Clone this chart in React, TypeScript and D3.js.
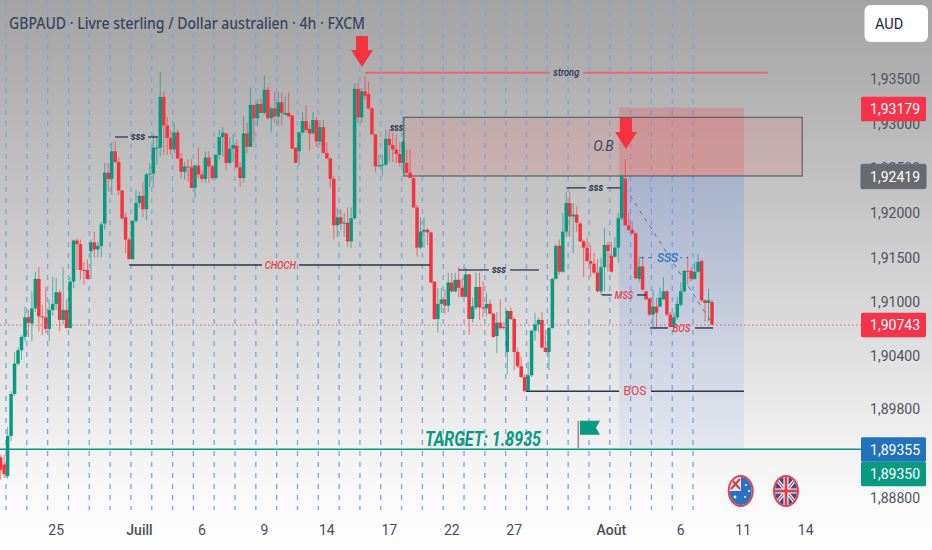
import * as d3 from "d3";

const WIDTH = 932;
const HEIGHT = 550;

// Candles in 1/10000 of a point, first entry is bar -2 (partly off the left edge).
const FIRST_BAR = -2;
const opens = [
  18926, 18918, 18905, 18950, 18997, 19031, 19046, 19061, 19083, 19076,
  19093, 19126, 19084, 19083, 19070, 19091, 19098, 19111, 19080, 19091,
  19071, 19123, 19169, 19165, 19136, 19136, 19157, 19167, 19159, 19163,
  19188, 19245, 19238, 19269, 19257, 19225, 19195, 19170, 19148, 19191,
  19211, 19219, 19204, 19243, 19244, 19272, 19273, 19330, 19298, 19284,
  19271, 19290, 19261, 19246, 19252, 19251, 19228, 19253, 19243, 19238,
  19262, 19252, 19239, 19265, 19285, 19289, 19256, 19272, 19275, 19251,
  19239, 19289, 19274, 19321, 19306, 19322, 19312, 19338, 19306, 19317,
  19308, 19324, 19310, 19312, 19309, 19273, 19269, 19290, 19303, 19294,
  19289, 19304, 19280, 19296, 19267, 19261, 19238, 19186, 19195, 19188,
  19189, 19168, 19194, 19339, 19307, 19336, 19333, 19317, 19288, 19252,
  19253, 19254, 19283, 19276, 19271, 19266, 19256, 19256, 19245, 19239,
  19206, 19161, 19179, 19181, 19178, 19123, 19081, 19098, 19103, 19096,
  19122, 19112, 19125, 19116, 19106, 19131, 19081, 19094, 19117, 19094,
  19093, 19098, 19087, 19062, 19077, 19072, 19044, 19090, 19081, 19044,
  19028, 19016, 19001, 19018, 19068, 19075, 19080, 19049, 19044, 19071,
  19126, 19163, 19134, 19179, 19211, 19196, 19198, 19188, 19168, 19161,
  19146, 19143, 19133, 19112, 19139, 19164, 19152, 19151, 19161, 19194,
  19238, 19186, 19181, 19177, 19126, 19140, 19112, 19104, 19086, 19095,
  19095, 19103, 19112, 19086, 19072, 19083, 19097, 19112, 19135, 19135,
  19126, 19134, 19146, 19102, 19099, 19100,
];
const closes = [
  18912, 18907, 18950, 18997, 19031, 19046, 19061, 19083, 19077, 19093,
  19126, 19084, 19083, 19070, 19091, 19098, 19111, 19080, 19091, 19071,
  19123, 19169, 19165, 19136, 19135, 19126, 19167, 19159, 19163, 19187,
  19245, 19238, 19269, 19257, 19225, 19194, 19170, 19148, 19191, 19211,
  19219, 19204, 19243, 19244, 19273, 19273, 19330, 19298, 19284, 19271,
  19290, 19261, 19246, 19252, 19251, 19228, 19253, 19243, 19238, 19262,
  19252, 19239, 19265, 19285, 19290, 19256, 19272, 19276, 19251, 19239,
  19289, 19274, 19321, 19306, 19322, 19312, 19338, 19306, 19317, 19308,
  19324, 19312, 19312, 19308, 19272, 19256, 19290, 19303, 19293, 19289,
  19304, 19280, 19296, 19267, 19261, 19238, 19186, 19195, 19188, 19189,
  19168, 19194, 19339, 19307, 19336, 19331, 19317, 19288, 19252, 19253,
  19254, 19283, 19276, 19271, 19266, 19256, 19280, 19245, 19239, 19206,
  19161, 19179, 19181, 19178, 19122, 19081, 19098, 19103, 19096, 19122,
  19112, 19125, 19116, 19106, 19131, 19081, 19095, 19117, 19094, 19093,
  19098, 19087, 19061, 19077, 19071, 19071, 19090, 19081, 19044, 19028,
  19016, 19000, 19018, 19068, 19075, 19080, 19049, 19044, 19071, 19126,
  19163, 19134, 19179, 19211, 19196, 19198, 19189, 19168, 19161, 19146,
  19143, 19133, 19112, 19139, 19164, 19157, 19134, 19161, 19194, 19241,
  19186, 19181, 19177, 19127, 19140, 19114, 19103, 19086, 19095, 19088,
  19105, 19112, 19086, 19072, 19083, 19098, 19112, 19135, 19134, 19126,
  19134, 19145, 19102, 19099, 19102, 19075,
];
const highs = [
  18929, 18929, 18960, 19000, 19044, 19049, 19063, 19095, 19091, 19112,
  19134, 19139, 19097, 19117, 19103, 19128, 19127, 19114, 19139, 19103,
  19128, 19170, 19171, 19170, 19145, 19148, 19170, 19179, 19168, 19190,
  19256, 19256, 19279, 19280, 19262, 19226, 19200, 19172, 19192, 19226,
  19224, 19234, 19245, 19256, 19288, 19285, 19358, 19336, 19307, 19293,
  19301, 19293, 19267, 19257, 19260, 19260, 19254, 19273, 19248, 19269,
  19269, 19254, 19265, 19293, 19296, 19290, 19285, 19288, 19282, 19257,
  19308, 19301, 19340, 19321, 19327, 19329, 19354, 19341, 19319, 19336,
  19335, 19335, 19330, 19335, 19310, 19273, 19291, 19313, 19321, 19299,
  19313, 19307, 19304, 19304, 19279, 19262, 19241, 19206, 19204, 19200,
  19206, 19206, 19345, 19346, 19340, 19353, 19347, 19318, 19288, 19265,
  19265, 19293, 19293, 19290, 19288, 19279, 19308, 19271, 19271, 19241,
  19209, 19195, 19195, 19183, 19179, 19123, 19116, 19116, 19114, 19133,
  19133, 19133, 19139, 19127, 19139, 19131, 19105, 19133, 19133, 19123,
  19111, 19103, 19088, 19089, 19103, 19078, 19091, 19094, 19083, 19049,
  19039, 19019, 19033, 19069, 19088, 19083, 19089, 19069, 19072, 19127,
  19165, 19170, 19200, 19224, 19223, 19211, 19207, 19190, 19170, 19172,
  19164, 19155, 19148, 19150, 19183, 19168, 19167, 19173, 19200, 19243,
  19260, 19200, 19190, 19179, 19151, 19151, 19113, 19105, 19114, 19105,
  19116, 19128, 19114, 19089, 19088, 19106, 19122, 19136, 19151, 19139,
  19145, 19154, 19148, 19103, 19115, 19103,
];
const lows = [
  18901, 18903, 18902, 18944, 18995, 19029, 19035, 19056, 19061, 19056,
  19089, 19067, 19063, 19065, 19056, 19085, 19091, 19067, 19075, 19070,
  19070, 19116, 19136, 19125, 19120, 19125, 19126, 19150, 19150, 19150,
  19181, 19224, 19220, 19256, 19220, 19192, 19155, 19148, 19148, 19189,
  19206, 19195, 19192, 19229, 19228, 19254, 19263, 19265, 19265, 19265,
  19267, 19260, 19239, 19237, 19235, 19228, 19217, 19239, 19234, 19234,
  19234, 19237, 19237, 19260, 19263, 19248, 19254, 19257, 19251, 19229,
  19234, 19267, 19274, 19279, 19297, 19312, 19310, 19304, 19291, 19301,
  19298, 19298, 19310, 19308, 19271, 19256, 19253, 19289, 19291, 19270,
  19288, 19274, 19276, 19267, 19260, 19228, 19170, 19173, 19181, 19173,
  19162, 19161, 19192, 19301, 19301, 19327, 19316, 19287, 19246, 19251,
  19241, 19252, 19257, 19257, 19256, 19252, 19245, 19243, 19239, 19206,
  19151, 19159, 19161, 19164, 19122, 19080, 19066, 19088, 19086, 19089,
  19111, 19111, 19105, 19105, 19105, 19063, 19077, 19091, 19080, 19083,
  19084, 19086, 19060, 19043, 19069, 19069, 19019, 19080, 19024, 19026,
  19015, 19000, 19000, 19016, 19057, 19066, 19048, 19044, 19024, 19070,
  19125, 19131, 19133, 19173, 19173, 19155, 19179, 19167, 19128, 19145,
  19128, 19131, 19111, 19108, 19112, 19134, 19133, 19150, 19144, 19192,
  19185, 19180, 19176, 19125, 19123, 19112, 19103, 19084, 19072, 19072,
  19094, 19103, 19084, 19072, 19071, 19080, 19095, 19111, 19120, 19123,
  19125, 19133, 19100, 19078, 19078, 19074,
];

const priceTicks = [1.935, 1.93, 1.925, 1.92, 1.915, 1.91, 1.904, 1.898, 1.888];
const dayLabels = ["25", "Juill", "6", "9", "14", "17", "22", "27", "Août", "6", "11", "14"];
const dayBars = [14, 38, 56, 74, 92, 110, 128, 146, 174, 194, 212, 230];
const monthLabels = ["Juill", "Août"];

const lastPrice = 1.90743;
const targetPrice = 1.8935;

// Drawn levels: price, bar where it starts, gap around the label, bar where it ends.
const swingLevels = [
  { label: "sss", price: 1.9285, from: 31, gapFrom: 34.7, at: 37.6, gapTo: 40.5, to: 43.3 },
  { label: "sss", price: 1.9228, from: 161.1, gapFrom: 166.7, at: 169.6, gapTo: 172.7, to: 176.6 },
  { label: "sss", price: 1.9136, from: 130, gapFrom: 138.7, at: 141.6, gapTo: 144.8, to: 153.1 },
];
const breakLevels = [
  { label: "CHOCH", price: 1.91415, from: 35, gapFrom: 73.3, at: 78.6, gapTo: 84, to: 121.7 },
  { label: "MSS", price: 1.9108, from: 171.2, gapFrom: 174.1, at: 177.6, gapTo: 181.4, to: 184 },
  { label: "BOS", price: 1.9071, from: 185.1, gapFrom: 190.3, at: 194.2, gapTo: 198.1, to: 203.3 },
  { label: "BOS", price: 1.9, from: 149.4, gapFrom: 176.2, at: 180.8, gapTo: 185.4, to: 212.2 },
];
const strongLevel = { label: "strong", price: 1.9357, from: 103, gapFrom: 156.3, at: 161, gapTo: 165.8, to: 219.1 };

const orderBlock = { top: 1.9307, bottom: 1.92413, from: 114.2, to: 229 };
const tradeZone = { top: 1.93179, entry: 1.92419, bottom: 1.89355, from: 176.2, to: 212.2 };

const FONT = "Roboto, sans-serif";
const RED = "#f7323f";
const GREEN = "#089981";
const NAVY = "#2b3450";

const toPrice = (v: number) => v / 10000;

const bar = d3.scaleLinear().domain([0, 6]).range([7.6, 28.42]);
const y = d3.scaleLinear().domain([1.935, 1.888]).range([79, 498.4]);

const candles = d3.range(opens.length).map((i) => ({
  i: i + FIRST_BAR,
  o: toPrice(opens[i]),
  c: toPrice(closes[i]),
  h: toPrice(highs[i]),
  l: toPrice(lows[i]),
}));
const gridBars = d3.range(0, 34).map((k) => k * 6 - 0.46);

const fmt = (v: number) => v.toFixed(5).replace(".", ",");

function Level({ lv, stroke, width }: { lv: typeof strongLevel; stroke: string; width: number }) {
  const yy = y(lv.price);
  return (
    <g stroke={stroke} strokeWidth={width}>
      <line x1={bar(lv.from)} x2={bar(lv.gapFrom)} y1={yy} y2={yy} />
      <line x1={bar(lv.gapTo)} x2={bar(lv.to)} y1={yy} y2={yy} />
    </g>
  );
}

function Arrow({ tipX, tipY }: { tipX: number; tipY: number }) {
  const path = d3.path();
  path.moveTo(tipX, tipY);
  path.lineTo(tipX - 11, tipY - 17);
  path.lineTo(tipX - 6, tipY - 17);
  path.lineTo(tipX - 6, tipY - 31);
  path.lineTo(tipX + 6, tipY - 31);
  path.lineTo(tipX + 6, tipY - 17);
  path.lineTo(tipX + 11, tipY - 17);
  path.closePath();
  return <path d={path.toString()} fill={RED} />;
}

function Tag({ price, cy, fill, stroke }: { price: number; cy: number; fill: string; stroke?: string }) {
  return (
    <g>
      <rect x={861} y={cy - 12.2} width={65} height={24.4} rx={1.5} fill={fill} stroke={stroke} />
      <text x={920} y={cy} dy="0.36em" textAnchor="end" fontSize={14} fill="#fff" fontFamily={FONT}>
        {fmt(price)}
      </text>
    </g>
  );
}

function CurrencyBadges() {
  const cy = 491;
  return (
    <g>
      <defs>
        <clipPath id="auClip">
          <ellipse cx={740.7} cy={cy} rx={11} ry={14} />
        </clipPath>
        <clipPath id="ukClip">
          <ellipse cx={786} cy={cy} rx={11} ry={14} />
        </clipPath>
      </defs>
      <ellipse cx={740.7} cy={cy} rx={12} ry={15} fill="#fff" stroke="#ee3b48" strokeWidth={2} />
      <g clipPath="url(#auClip)">
        <rect x={729} y={476} width={24} height={30} fill="#2a72c0" />
        <rect x={729} y={476} width={12} height={15} fill="#e9e4ec" />
        <path d="M731 479 L740 489 M740 479 L731 489" stroke="#c8404e" strokeWidth={2} />
        <circle cx={735} cy={497} r={1.4} fill="#fff" />
        <circle cx={746} cy={485} r={1} fill="#fff" />
        <circle cx={749} cy={491} r={1} fill="#fff" />
        <circle cx={745} cy={497} r={1} fill="#fff" />
      </g>
      <ellipse cx={786} cy={cy} rx={12} ry={15} fill="#fff" stroke="#ee3b48" strokeWidth={2} />
      <g clipPath="url(#ukClip)">
        <rect x={774} y={476} width={24} height={30} fill="#2e4f9a" />
        <path d="M774 476 L798 506 M798 476 L774 506" stroke="#fff" strokeWidth={3.5} />
        <path d="M774 476 L798 506 M798 476 L774 506" stroke="#d8404e" strokeWidth={1.2} />
        <path d="M786 476 V506 M774 491 H798" stroke="#fff" strokeWidth={5} />
        <path d="M786 476 V506 M774 491 H798" stroke="#d8404e" strokeWidth={2.8} />
      </g>
    </g>
  );
}

export default function App() {
  return (
    <svg
      width={WIDTH}
      height={HEIGHT}
      viewBox={`0 0 ${WIDTH} ${HEIGHT}`}
      style={{ position: "absolute", left: 0, top: 0 }}
      fontFamily={FONT}
    >
      <defs>
        <linearGradient id="bg" x1="0" y1="0" x2="0" y2="1">
          <stop offset="0" stopColor="#a3a3a3" />
          <stop offset="0.5" stopColor="#d2d2d2" />
          <stop offset="0.88" stopColor="#f8f8f8" />
          <stop offset="1" stopColor="#ffffff" />
        </linearGradient>
        <linearGradient id="zoneBlue" x1="0" y1="0" x2="0" y2="1">
          <stop offset="0" stopColor="#5b86e6" stopOpacity={0.25} />
          <stop offset="1" stopColor="#7f9fe8" stopOpacity={0.12} />
        </linearGradient>
      </defs>
      <rect width={WIDTH} height={HEIGHT} fill="url(#bg)" />

      {gridBars.map((b) => (
        <line
          key={b}
          x1={bar(b)}
          x2={bar(b)}
          y1={0}
          y2={510}
          stroke="#7ba4e2"
          strokeWidth={1.3}
          strokeDasharray="5 6"
        />
      ))}

      {/* position tool */}
      <rect
        x={bar(tradeZone.from)}
        width={bar(tradeZone.to) - bar(tradeZone.from)}
        y={y(tradeZone.entry)}
        height={y(tradeZone.bottom) - y(tradeZone.entry)}
        fill="url(#zoneBlue)"
      />
      <rect
        x={bar(tradeZone.from)}
        width={bar(tradeZone.to) - bar(tradeZone.from)}
        y={y(tradeZone.top)}
        height={y(tradeZone.entry) - y(tradeZone.top)}
        fill="#f23645"
        fillOpacity={0.24}
      />
      <rect
        x={bar(orderBlock.from)}
        width={bar(orderBlock.to) - bar(orderBlock.from)}
        y={y(orderBlock.top)}
        height={y(orderBlock.bottom) - y(orderBlock.top)}
        fill="#dc8282"
        fillOpacity={0.25}
        stroke="#5f6268"
        strokeWidth={1.2}
      />

      <line x1={0} x2={861} y1={y(targetPrice)} y2={y(targetPrice)} stroke={GREEN} strokeWidth={1.5} />
      <line
        x1={0}
        x2={861}
        y1={y(lastPrice)}
        y2={y(lastPrice)}
        stroke="#e2606c"
        strokeWidth={1}
        strokeDasharray="1.5 2.5"
      />

      {candles.map((d) => {
        const color = d.c >= d.o ? GREEN : RED;
        const x = bar(d.i);
        const top = y(Math.max(d.o, d.c));
        const bottom = y(Math.min(d.o, d.c));
        return (
          <g key={d.i}>
            <line x1={x} x2={x} y1={y(d.h)} y2={y(d.l)} stroke={color} strokeOpacity={0.6} strokeWidth={1.1} />
            <rect x={x - 1.75} y={top} width={3.5} height={Math.max(bottom - top, 1)} fill={color} />
          </g>
        );
      })}

      {/* diagonal from the entry to the last close */}
      <line
        x1={bar(178)}
        y1={y(1.9228)}
        x2={bar(203.3)}
        y2={y(lastPrice)}
        stroke="#6d7078"
        strokeWidth={1}
        strokeDasharray="4 5"
      />

      <Level lv={strongLevel} stroke="#e8697a" width={2} />
      <text
        x={bar(strongLevel.at)}
        y={y(strongLevel.price)}
        dy="0.32em"
        textAnchor="middle"
        fontSize={11}
        fontStyle="italic"
        fontWeight={500}
        fill={NAVY}
        textLength={26}
        lengthAdjust="spacingAndGlyphs"
      >
        {strongLevel.label}
      </text>

      {swingLevels.map((lv) => (
        <g key={lv.price}>
          <Level lv={lv} stroke={NAVY} width={1.3} />
          <text
            x={bar(lv.at)}
            y={y(lv.price)}
            dy="0.3em"
            textAnchor="middle"
            fontSize={11}
            fontStyle="italic"
            fontWeight={700}
            fill={NAVY}
            textLength={14}
            lengthAdjust="spacingAndGlyphs"
          >
            {lv.label}
          </text>
        </g>
      ))}
      <text
        x={396.5}
        y={128}
        dy="0.3em"
        textAnchor="middle"
        fontSize={11}
        fontStyle="italic"
        fontWeight={700}
        fill={NAVY}
        textLength={13}
        lengthAdjust="spacingAndGlyphs"
      >
        sss
      </text>

      {breakLevels.map((lv) => {
        const main = lv.price === 1.9;
        const wide = lv.label === "CHOCH" ? 31 : 18;
        return (
          <g key={lv.price}>
            <Level lv={lv} stroke={NAVY} width={1.4} />
            <text
              x={bar(lv.at)}
              y={y(lv.price)}
              dy="0.34em"
              textAnchor="middle"
              fontSize={main ? 12 : 11}
              fontStyle={main ? "normal" : "italic"}
              fontWeight={main ? 400 : 500}
              fill="#e8404e"
              textLength={main ? 23 : wide}
              lengthAdjust="spacingAndGlyphs"
            >
              {lv.label}
            </text>
          </g>
        );
      })}

      <text x={667.5} y={258} dy="0.34em" textAnchor="middle" fontSize={12} fontStyle="italic" fontWeight={500} fill="#2d79c7">
        SSS
      </text>
      <line x1={640} x2={653} y1={257.7} y2={257.7} stroke="#2d79c7" strokeWidth={1} strokeDasharray="4 4" />
      <line x1={680} x2={690} y1={257.7} y2={257.7} stroke="#2d79c7" strokeWidth={1} strokeDasharray="2 4" />

      <text x={603.5} y={146.5} dy="0.34em" textAnchor="middle" fontSize={14} fontStyle="italic" fill="#3a4560">
        O.B
      </text>

      <Arrow tipX={362} tipY={67} />
      <Arrow tipX={626} tipY={149} />

      <text
        x={425}
        y={438}
        dy="0.36em"
        fontSize={21}
        fontStyle="italic"
        fontWeight={700}
        fill={GREEN}
        textLength={116}
        lengthAdjust="spacingAndGlyphs"
      >
        TARGET: 1.8935
      </text>
      <line x1={578.3} x2={578.3} y1={421} y2={448} stroke="#9a8c8e" strokeWidth={1.6} />
      <polygon points="580,420.7 600,420.7 596,427.7 600,434.7 580,434.7" fill={GREEN} />

      <text
        x={9}
        y={23}
        dy="0.35em"
        fontFamily="'Noto Sans', sans-serif"
        fontSize={16}
        fontWeight={500}
        fill="#3a4560"
        textLength={356}
        lengthAdjust="spacingAndGlyphs"
      >
        GBPAUD · Livre sterling / Dollar australien · 4h · FXCM
      </text>

      {priceTicks.map((t) => (
        <text key={t} x={920} y={y(t)} dy="0.36em" textAnchor="end" fontSize={14} fill="#50535e">
          {fmt(t)}
        </text>
      ))}

      {dayLabels.map((label, i) => (
        <text
          key={`${label}-${i}`}
          x={bar(dayBars[i])}
          y={530}
          dy="0.36em"
          textAnchor="middle"
          fontSize={14}
          fontWeight={monthLabels.includes(label) ? 500 : 400}
          fill="#4a4e5a"
        >
          {label}
        </text>
      ))}

      <Tag price={tradeZone.top} cy={109} fill="#f7324a" />
      <Tag price={tradeZone.entry} cy={176.5} fill="#696a6e" stroke="#5a6a8e" />
      <Tag price={lastPrice} cy={325} fill="#f4344a" />
      <Tag price={tradeZone.bottom} cy={449.5} fill="#2272bd" />
      <Tag price={targetPrice} cy={474} fill={GREEN} />

      <rect x={864.5} y={5} width={63.5} height={37} rx={6} fill="#fff" />
      <text x={875} y={24} dy="0.36em" fontSize={14.5} fill="#1f2638">
        AUD
      </text>

      <CurrencyBadges />
    </svg>
  );
}
